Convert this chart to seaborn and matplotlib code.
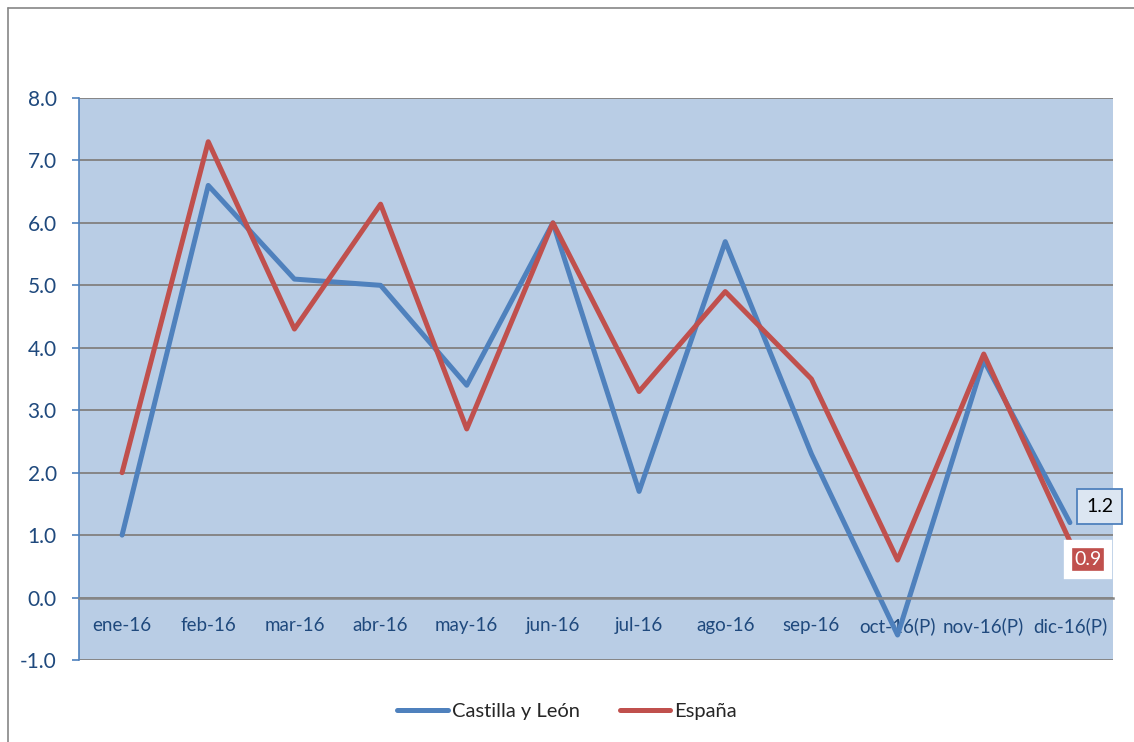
import numpy as np
import pandas as pd
import matplotlib
matplotlib.use('Agg')
from matplotlib import pyplot as plt
from matplotlib.lines import Line2D
import seaborn as sns

months = ['ene-16', 'feb-16', 'mar-16', 'abr-16', 'may-16', 'jun-16',
          'jul-16', 'ago-16', 'sep-16', 'oct-16(P)', 'nov-16(P)', 'dic-16(P)']
castilla = [1.0, 6.6, 5.1, 5.0, 3.4, 6.0, 1.7, 5.7, 2.3, -0.6, 3.8, 1.2]
espana = [2.0, 7.3, 4.3, 6.3, 2.7, 6.0, 3.3, 4.9, 3.5, 0.6, 3.9, 0.9]
series_names = ['Castilla y León', 'España']
colors = {'Castilla y León': '#4F81BD', 'España': '#C0504D'}

sns.set_style('white')
plt.rcParams['font.family'] = ['Lato', 'DejaVu Sans']

df = pd.DataFrame({
    'mes': months * 2,
    'valor': castilla + espana,
    'serie': [series_names[0]] * len(months) + [series_names[1]] * len(months),
})

fig = plt.figure(figsize=(11.34, 7.42), dpi=100)
ax = fig.add_axes([79 / 1134, 1 - 660 / 742, 1034 / 1134, 562 / 742])
ax.set_facecolor('#B9CDE5')

sns.lineplot(data=df, x='mes', y='valor', hue='serie', palette=colors,
             linewidth=3.6, ax=ax, legend=False, sort=False)

ax.set_xlim(-0.5, len(months) - 0.5)
ax.set_ylim(-1.0, 8.0)
ax.set_yticks(np.arange(-1, 9, 1))
ax.set_yticklabels(['{:.1f}'.format(v) for v in np.arange(-1, 9, 1)])
ax.yaxis.grid(True, color='#868686', linewidth=1.4)
ax.set_axisbelow(True)
ax.set_xlabel('')
ax.set_ylabel('')

ax.set_xticks(range(len(months)))
ax.set_xticklabels(months)
ax.set_xticks(np.arange(-0.5, len(months), 1), minor=True)
ax.tick_params(axis='x', which='major', length=0, pad=14,
               labelsize=13.5, labelcolor='#1F497D')
ax.tick_params(axis='x', which='minor', length=4, width=1.4,
               color='#868686', direction='out')
ax.tick_params(axis='y', length=5, width=1.2, color='#4F81BD',
               labelsize=15, labelcolor='#1F497D', pad=11, left=True)

ax.spines['bottom'].set_position(('data', 0))
ax.spines['bottom'].set_color('#868686')
ax.spines['bottom'].set_linewidth(1.8)
ax.spines['left'].set_color('#4F81BD')
ax.spines['left'].set_linewidth(1.2)
ax.spines['top'].set_visible(False)
ax.spines['right'].set_visible(False)

# end labels
ax.annotate('{:.1f}'.format(castilla[-1]), xy=(11, castilla[-1]),
            xytext=(21.5, 11.5), textcoords='offset points',
            ha='center', va='center', fontsize=14, color='black',
            bbox=dict(boxstyle='square,pad=0.45', fc='#DCE6F2',
                      ec='#4F81BD', lw=1.3),
            annotation_clip=False)
ax.annotate('{:.1f}'.format(espana[-1]), xy=(11, espana[-1]),
            xytext=(13, -13), textcoords='offset points',
            ha='center', va='center', fontsize=14, color='white',
            bbox=dict(boxstyle='square,pad=0.35', fc='#C0504D',
                      ec='white', lw=6),
            annotation_clip=False)

# legend
handles = [Line2D([0], [0], color=colors[n], lw=3.6, solid_capstyle='round')
           for n in series_names]
fig.legend(handles, series_names, loc='center', ncol=2,
           bbox_to_anchor=(0.5, 1 - 711 / 742), frameon=False,
           fontsize=14.5, handlelength=2.5, handletextpad=0.2,
           columnspacing=2.0)

# outer chart border
fig.add_artist(Line2D([8 / 1134, 8 / 1134], [0, 1 - 8 / 742],
                      transform=fig.transFigure, color='#868686', lw=1.2))
fig.add_artist(Line2D([8 / 1134, 1], [1 - 8 / 742, 1 - 8 / 742],
                      transform=fig.transFigure, color='#868686', lw=1.2))

fig.savefig('out.png', dpi=100)
